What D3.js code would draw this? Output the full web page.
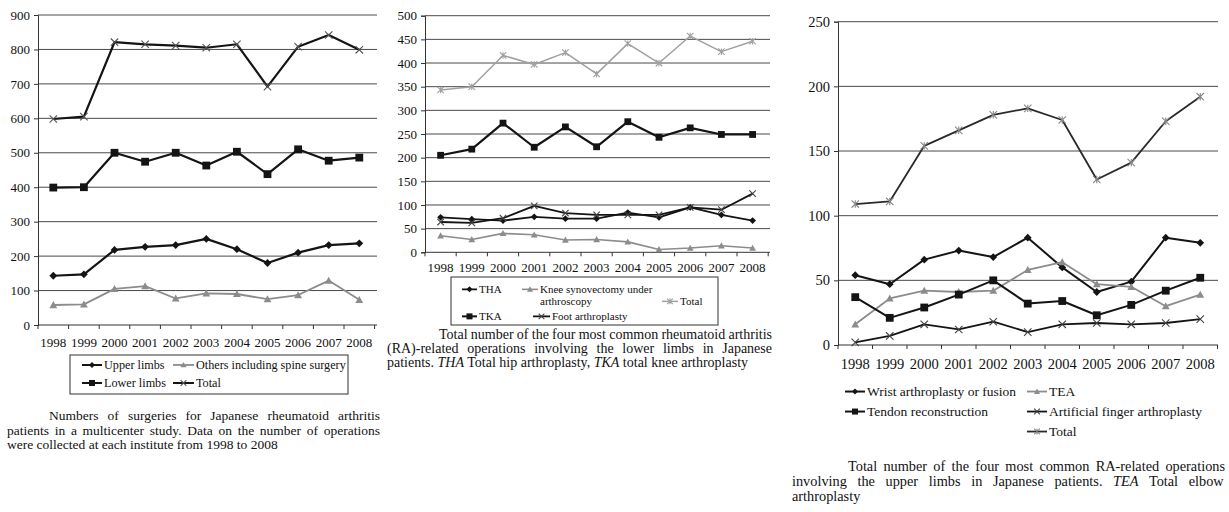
<!DOCTYPE html>
<html>
<head>
<meta charset="utf-8">
<script src="https://cdn.jsdelivr.net/npm/d3@7"></script>
<style>
  html, body { margin: 0; padding: 0; background: #fff; }
  svg { display: block; }
  text { font-family: "Liberation Serif", "Times New Roman", serif; fill: #111; }
</style>
</head>
<body>
<svg id="chart" width="1229" height="512"></svg>
<script>
// ---- shared categories ----
const years = ["1998","1999","2000","2001","2002","2003","2004","2005","2006","2007","2008"];

// ---- all RA surgeries ----
const upperLimbs  = [143,147,218,227,232,250,220,180,210,232,237];
const lowerLimbs  = [399,400,500,474,500,463,503,438,510,477,486];
const othersSpine = [58,60,105,113,77,92,90,75,87,129,73];
const totalAll    = [598,605,821,815,811,805,815,692,808,842,799];
const ticksAll    = [0,100,200,300,400,500,600,700,800,900];

// ---- lower-limb operations ----
const tha         = [74,70,67,75,71,71,84,74,95,79,67];
const kneeSynov   = [35,27,40,37,26,27,22,6,9,14,9];
const tka         = [205,218,273,222,265,223,276,243,263,249,249];
const footArthro  = [64,62,72,98,83,79,79,79,95,90,124];
const totalLower  = [343,350,416,397,422,377,441,400,457,424,446];
const ticksLower  = [0,50,100,150,200,250,300,350,400,450,500];

// ---- upper-limb operations ----
const wrist       = [54,47,66,73,68,83,60,41,49,83,79];
const tendon      = [37,21,29,39,50,32,34,23,31,42,52];
const tea         = [16,36,42,41,42,58,64,47,45,30,39];
const fingerArth  = [2,7,16,12,18,10,16,17,16,17,20];
const totalUpper  = [109,111,154,166,178,183,174,128,141,173,192];
const ticksUpper  = [0,50,100,150,200,250];

const BLACK = "#141414", GREY = "#8c8c8c", GRID = "#4a4a4a";
const svg = d3.select("#chart");

// marker painter
function marker(g, type, x, y, color, s) {
  s = s || 3.6;
  if (type === "diamond") {
    g.append("path").attr("d", `M${x},${y-s}L${x+s},${y}L${x},${y+s}L${x-s},${y}Z`).attr("fill", color);
  } else if (type === "square") {
    g.append("rect").attr("x", x-s).attr("y", y-s).attr("width", 2*s).attr("height", 2*s).attr("fill", color);
  } else if (type === "triangle") {
    g.append("path").attr("d", `M${x},${y-s}L${x+s},${y+s*0.8}L${x-s},${y+s*0.8}Z`).attr("fill", color);
  } else if (type === "x" || type === "star") {
    const d = s * 0.95;
    let p = `M${x-d},${y-d}L${x+d},${y+d}M${x-d},${y+d}L${x+d},${y-d}`;
    if (type === "star") p += `M${x},${y-d}L${x},${y+d}`;
    g.append("path").attr("d", p).attr("stroke", color).attr("stroke-width", 1.1).attr("fill", "none");
  }
}

function justifyLine(g, str, x, y, width, size) {
  const t = g.append("text").attr("x", x).attr("y", y).attr("font-size", size).text(str);
  const natural = t.node().getComputedTextLength();
  const spaces = (str.match(/ /g) || []).length;
  if (spaces > 0) t.style("word-spacing", ((width - natural) / spaces) + "px");
  return t;
}

function drawPanel(cfg) {
  const g = svg.append("g");
  const x = d3.scaleBand().domain(years).range([cfg.x0, cfg.x0 + cfg.band * years.length]);
  const y = d3.scaleLinear().domain([0, cfg.ymax]).range([cfg.yBottom, cfg.yTop]);

  // horizontal gridlines
  g.append("g").selectAll("line").data(cfg.ticks.filter(d => d > 0)).join("line")
    .attr("x1", cfg.x0).attr("x2", cfg.gridRight)
    .attr("y1", d => y(d)).attr("y2", d => y(d))
    .attr("stroke", GRID).attr("stroke-width", 1);

  // y axis
  const ya = g.append("g").attr("transform", `translate(${cfg.x0},0)`)
    .call(d3.axisLeft(y).tickValues(cfg.ticks).tickSize(4).tickPadding(4).tickFormat(d3.format("d")));
  ya.select(".domain").attr("stroke", "#333");
  ya.selectAll(".tick line").attr("stroke", "#333");
  ya.selectAll("text").attr("font-size", cfg.tickFont).attr("font-family", "Liberation Serif").attr("fill", "#111");

  // x axis: ticks at category boundaries
  const xa = g.append("g").attr("transform", `translate(0,${cfg.yBottom})`);
  xa.append("line").attr("x1", cfg.x0).attr("x2", cfg.gridRight).attr("stroke", "#333");
  const bounds = d3.range(years.length + 1).map(i => cfg.x0 + i * x.bandwidth());
  xa.selectAll("line.tk").data(bounds).join("line").attr("class", "tk")
    .attr("x1", d => d).attr("x2", d => d).attr("y1", 0).attr("y2", 4).attr("stroke", "#333");
  xa.selectAll("text").data(years).join("text")
    .attr("x", d => x(d) + x.bandwidth() / 2).attr("y", cfg.yearBase - cfg.yBottom)
    .attr("text-anchor", "middle").attr("font-size", cfg.tickFont).text(d => d);

  // series
  const cx = (d, i) => x(years[i]) + x.bandwidth() / 2;
  cfg.series.forEach(s => {
    const line = d3.line().x((d, i) => cx(d, i)).y(d => y(d));
    g.append("path").datum(s.values).attr("d", line)
      .attr("fill", "none").attr("stroke", s.color).attr("stroke-width", s.width)
      .attr("stroke-linejoin", "round");
    const mg = g.append("g");
    s.values.forEach((v, i) => marker(mg, s.marker, cx(v, i), y(v), s.markerColor || s.color, cfg.mSize));
  });

  // legend
  const lg = g.append("g");
  if (cfg.legendBox) {
    const b = cfg.legendBox;
    lg.append("rect").attr("x", b[0]).attr("y", b[1]).attr("width", b[2]).attr("height", b[3])
      .attr("fill", "none").attr("stroke", "#333").attr("stroke-width", 1);
  }
  cfg.legend.forEach(e => {
    const s = cfg.series[e.s];
    lg.append("line").attr("x1", e.x).attr("x2", e.x + e.w).attr("y1", e.y - cfg.legFont * 0.33).attr("y2", e.y - cfg.legFont * 0.33)
      .attr("stroke", s.color).attr("stroke-width", Math.min(2, s.width));
    marker(lg, s.marker, e.x + e.w / 2, e.y - cfg.legFont * 0.33, s.markerColor || s.color, 3);
    e.lines.forEach((t, k) => lg.append("text").attr("x", e.x + e.w + 2).attr("y", e.y + k * cfg.legLine)
      .attr("font-size", cfg.legFont).text(t));
  });

  // caption
  const cg = g.append("g");
  cfg.caption.forEach(c => {
    if (c.justify) justifyLine(cg, c.t, c.x, c.y, cfg.capRight - c.x, cfg.capFont);
    else cg.append("text").attr("x", c.x).attr("y", c.y).attr("font-size", cfg.capFont).text(c.t);
  });
}

// Panel 1: all RA operations
drawPanel({
  x0: 38, band: 30.6, gridRight: 377, yTop: 15, yBottom: 325, ymax: 900, ticks: ticksAll,
  tickFont: 13, yearBase: 347, mSize: 3.9,
  series: [
    { values: upperLimbs,  color: BLACK, width: 2.2, marker: "diamond" },
    { values: lowerLimbs,  color: BLACK, width: 2.2, marker: "square" },
    { values: othersSpine, color: GREY,  width: 1.8, marker: "triangle" },
    { values: totalAll,    color: BLACK, width: 2.2, marker: "x", markerColor: "#555" }
  ],
  legendBox: [70, 355, 278, 39], legFont: 12.2, legLine: 12,
  legend: [
    { s: 0, x: 82,  y: 369, w: 20, lines: ["Upper limbs"] },
    { s: 2, x: 173, y: 369, w: 21, lines: ["Others including spine surgery"] },
    { s: 1, x: 82,  y: 387, w: 20, lines: ["Lower limbs"] },
    { s: 3, x: 173, y: 387, w: 21, lines: ["Total"] }
  ],
  capFont: 13.5, capRight: 380,
  caption: [
    { t: "Numbers of surgeries for Japanese rheumatoid arthritis", x: 49, y: 420, justify: true },
    { t: "patients in a multicenter study. Data on the number of operations", x: 7, y: 435, justify: true },
    { t: "were collected at each institute from 1998 to 2008", x: 7, y: 449 }
  ]
});

// Panel 2: lower-limb operations
drawPanel({
  x0: 425, band: 31.2, gridRight: 770, yTop: 15.7, yBottom: 252.3, ymax: 500, ticks: ticksLower,
  tickFont: 13, yearBase: 272, mSize: 3.4,
  series: [
    { values: tha,        color: BLACK, width: 1.8, marker: "diamond" },
    { values: kneeSynov,  color: GREY,  width: 1.6, marker: "triangle" },
    { values: totalLower, color: "#a0a0a0", width: 1.5, marker: "star" },
    { values: tka,        color: BLACK, width: 2.2, marker: "square" },
    { values: footArthro, color: BLACK, width: 1.8, marker: "x", markerColor: "#444" }
  ],
  legendBox: [451, 277, 267, 48], legFont: 11, legLine: 12,
  legend: [
    { s: 0, x: 462, y: 293, w: 15, lines: ["THA"] },
    { s: 1, x: 522, y: 293, w: 16, lines: ["Knee synovectomy under", "arthroscopy"] },
    { s: 2, x: 662, y: 305, w: 16, lines: ["Total"] },
    { s: 3, x: 462, y: 320, w: 15, lines: ["TKA"] },
    { s: 4, x: 533, y: 320, w: 17, lines: ["Foot arthroplasty"] }
  ],
  capFont: 14, capRight: 772,
  caption: [
    { t: "Total number of the four most common rheumatoid arthritis", x: 439, y: 339, justify: true },
    { t: "(RA)-related operations involving the lower limbs in Japanese", x: 387, y: 353, justify: true },
    { t: "patients. THA Total hip arthroplasty, TKA total knee arthroplasty", x: 387, y: 367 }
  ]
});

// Panel 3: upper-limb operations
drawPanel({
  x0: 838, band: 34.5, gridRight: 1218, yTop: 21.7, yBottom: 345, ymax: 250, ticks: ticksUpper,
  tickFont: 14.5, yearBase: 369, mSize: 3.9,
  series: [
    { values: wrist,      color: BLACK, width: 2, marker: "diamond" },
    { values: tea,        color: GREY,  width: 1.8, marker: "triangle" },
    { values: tendon,     color: BLACK, width: 2, marker: "square" },
    { values: fingerArth, color: BLACK, width: 1.8, marker: "x", markerColor: "#444" },
    { values: totalUpper, color: "#2a2a2a", width: 1.8, marker: "star", markerColor: "#888" }
  ],
  legend: [
    { s: 0, x: 845,  y: 396, w: 20, lines: ["Wrist arthroplasty or fusion"] },
    { s: 1, x: 1027, y: 396, w: 20, lines: ["TEA"] },
    { s: 2, x: 845,  y: 416, w: 20, lines: ["Tendon reconstruction"] },
    { s: 3, x: 1027, y: 416, w: 20, lines: ["Artificial finger arthroplasty"] },
    { s: 4, x: 1027, y: 436, w: 20, lines: ["Total"] }
  ],
  legFont: 13.5, legLine: 14,
  capFont: 14.3, capRight: 1225,
  caption: [
    { t: "Total number of the four most common RA-related operations", x: 848, y: 471, justify: true },
    { t: "involving the upper limbs in Japanese patients. TEA Total elbow", x: 792, y: 486, justify: true },
    { t: "arthroplasty", x: 792, y: 501 }
  ]
});

// italic abbreviations inside captions
svg.selectAll("text").each(function() {
  const t = d3.select(this), s = t.text();
  const abbr = ["THA", "TKA", "TEA"];
  if (!/(patients\. THA|TEA Total elbow)/.test(s)) return;
  const parts = s.split(/(\bTHA\b|\bTKA\b|\bTEA\b)/);
  t.text(null);
  parts.forEach(p => { if (p) t.append("tspan").attr("font-style", abbr.includes(p) ? "italic" : null).text(p); });
});
</script>
</body>
</html>
